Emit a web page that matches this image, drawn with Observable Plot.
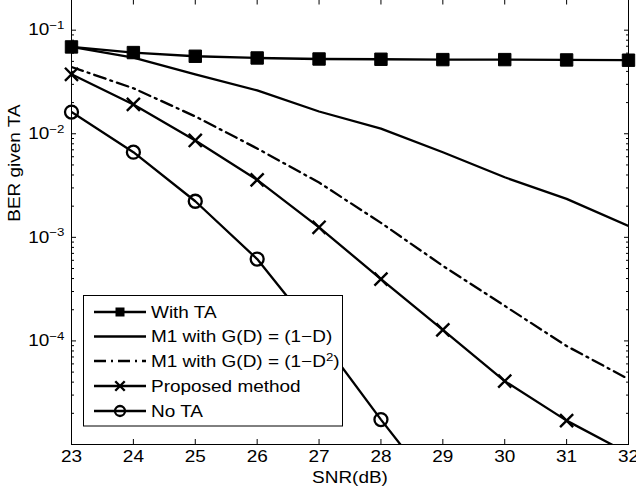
<!DOCTYPE html>
<html><head><meta charset="utf-8">
<script src="https://cdn.jsdelivr.net/npm/d3@7"></script>
<script src="https://cdn.jsdelivr.net/npm/@observablehq/plot@0.6"></script>
<style>
html,body{margin:0;padding:0;background:#fff;}
#wrap{position:relative;width:636px;height:492px;font-family:"Liberation Sans",Arial,Helvetica,sans-serif;}
#legend{position:absolute;left:0;top:0;pointer-events:none;}
</style></head><body><div id="wrap"></div>
<script>
// ---- data ----
const snr = [23, 24, 25, 26, 27, 28, 29, 30, 31, 32];
const withTA   = [0.0689, 0.0608, 0.0560, 0.0539, 0.0527, 0.0524, 0.0520, 0.0520, 0.0516, 0.0513];
const m1D      = [0.0689, 0.0544, 0.0375, 0.0262, 0.0164, 0.0112, 0.00663, 0.0038, 0.00235, 0.00129];
const m1D2     = [0.0441, 0.0275, 0.0147, 0.00721, 0.00338, 0.00138, 5.31e-4, 2.18e-4, 8.93e-5, 4.28e-5];
const proposed = [0.0375, 0.0192, 0.00861, 0.00359, 0.00125, 3.95e-4, 1.28e-4, 4.09e-5, 1.70e-5, 8.2e-6];
const noTAsnr  = [23, 24, 25, 26, 27, 28, 29];
const noTA     = [0.0162, 0.00664, 0.00223, 6.17e-4, 1.11e-4, 1.74e-5, 3.0e-6];
const seriesNames = ["With TA", "M1 with G(D) = (1\u2212D)", "M1 with G(D) = (1\u2212D^2)", "Proposed method", "No TA"];
const xTicks = [23, 24, 25, 26, 27, 28, 29, 30, 31, 32];
const yExps = [-5, -4, -3, -2, -1];
const yMantissas = [2, 3, 4, 5, 6, 7, 8, 9];
const yDomain = [1e-5, 0.2];
const xLabel = "SNR(dB)";
const yLabel = "BER given TA";

// ---- build tables ----
const mk = (xs, ys) => xs.map((x, i) => ({snr: x, ber: ys[i]}));
const series = [mk(snr, withTA), mk(snr, m1D), mk(snr, m1D2), mk(snr, proposed), mk(noTAsnr, noTA)];
const inView = d => d.ber >= yDomain[0] && d.ber <= yDomain[1];
const yMajor = yExps.slice(1).map(e => Math.pow(10, e));
const yMinor = [];
yExps.forEach(e => yMantissas.forEach(m => { const v = m * Math.pow(10, e); if (v > yDomain[0] && v < yDomain[1] * 0.999) yMinor.push(v); }));

const LW = 2.3;
const FS = 16.5;
const SX = 1.15; // horizontal stretch of the reference's lettering
const styles = [
  {dash: null, symbol: "square"},
  {dash: null, symbol: null},
  {dash: "12,5,2,5", symbol: null},
  {dash: null, symbol: "times"},
  {dash: null, symbol: "circle"}
];

const lineMarks = series.map((s, i) => Plot.line(s, {x: "snr", y: "ber", stroke: "black", strokeWidth: LW, strokeDasharray: styles[i].dash, clip: true}));
const dotMarks = [
  Plot.dot(series[0].filter(inView), {x: "snr", y: "ber", symbol: "square", r: 7, fill: "black", stroke: "black", strokeWidth: 1}),
  Plot.dot(series[3].filter(inView), {x: "snr", y: "ber", symbol: "times", r: 6, stroke: "black", strokeWidth: 2.4}),
  Plot.dot(series[4].filter(inView), {x: "snr", y: "ber", symbol: "circle", r: 6.5, fill: "none", stroke: "black", strokeWidth: 2.3})
];

const plot = Plot.plot({
  width: 636, height: 492,
  marginLeft: 71, marginRight: 8, marginTop: -1.5, marginBottom: 48,
  style: {fontFamily: "'Liberation Sans', Arial, Helvetica, sans-serif", fontSize: FS + "px", color: "black", background: "white", overflow: "visible"},
  x: {domain: [23, 32], label: null},
  y: {type: "log", domain: yDomain, label: null},
  marks: [
    Plot.axisX({ticks: xTicks, anchor: "bottom", tickSize: -5, tickPadding: 11, fontSize: FS, label: null, tickFormat: d => String(d)}),
    Plot.axisX({ticks: xTicks, anchor: "top", tickSize: -5, tickFormat: () => "", label: null}),
    Plot.axisY({ticks: yMinor, anchor: "left", tickSize: -3, tickFormat: () => "", label: null}),
    Plot.axisY({ticks: yMinor, anchor: "right", tickSize: -3, tickFormat: () => "", label: null}),
    Plot.axisY({ticks: yMajor, anchor: "left", tickSize: -5, tickPadding: 12, fontSize: FS, label: null,
      tickFormat: d => "10^" + String(Math.round(Math.log10(d))).replace("-", "\u2212")}),
    Plot.axisY({ticks: yMajor, anchor: "right", tickSize: -5, tickFormat: () => "", label: null}),
    Plot.frame({stroke: "black", strokeWidth: 1}),
    ...lineMarks,
    ...dotMarks,
    Plot.text([xLabel], {frameAnchor: "bottom", dy: 33, lineAnchor: "middle", text: d => d, fontSize: FS}),
    Plot.text([yLabel], {frameAnchor: "left", dx: -57, rotate: -90, lineAnchor: "middle", text: d => d, fontSize: FS})
  ]
});

// superscripts for "10^k" labels
function supify(t, baseText, supText) {
  while (t.firstChild) t.removeChild(t.firstChild);
  const ns = "http://www.w3.org/2000/svg";
  const a = document.createElementNS(ns, "tspan"); a.textContent = baseText; t.appendChild(a);
  const b = document.createElementNS(ns, "tspan"); b.textContent = supText;
  b.setAttribute("dy", "-0.55em"); b.setAttribute("font-size", "0.7em"); t.appendChild(b);
}
plot.querySelectorAll("text").forEach(t => {
  const m = t.textContent.match(/^10\^(\u2212?\d+)$/);
  if (m) supify(t, "10", m[1]);
  // widen lettering around its anchor point
  if (!t.textContent) return;
  let tr = t.getAttribute("transform");
  if (!tr) {
    const x = parseFloat(t.getAttribute("x")) || 0;
    const yAttr = t.getAttribute("y");
    let y = 0;
    if (yAttr != null && !/em$/.test(yAttr)) { y = parseFloat(yAttr) || 0; t.removeAttribute("y"); }
    t.removeAttribute("x");
    tr = `translate(${x},${y})`;
  }
  t.setAttribute("transform", tr + ` scale(${SX},1)`);
});

const wrap = document.getElementById("wrap");
wrap.appendChild(plot);

// ---- legend (overlay inside the axes) ----
const leg = d3.select(wrap).append("svg").attr("id", "legend").attr("width", 636).attr("height", 492)
  .style("font-family", "'Liberation Sans', Arial, Helvetica, sans-serif").style("font-size", FS + "px");
const box = {x: 83.5, y: 295.5, w: 259, h: 130.5};
leg.append("rect").attr("x", box.x).attr("y", box.y).attr("width", box.w).attr("height", box.h)
  .attr("fill", "white").attr("stroke", "black").attr("stroke-width", 1);
const rowY = [312, 336.5, 361, 386, 411];
seriesNames.forEach((name, i) => {
  const y = rowY[i];
  const g = leg.append("g");
  g.append("line").attr("x1", 94).attr("x2", 146).attr("y1", y).attr("y2", y)
    .attr("stroke", "black").attr("stroke-width", LW).attr("stroke-dasharray", styles[i].dash);
  const s = styles[i].symbol;
  if (s === "square") g.append("rect").attr("x", 120 - 4.5).attr("y", y - 4.5).attr("width", 9).attr("height", 9).attr("fill", "black");
  if (s === "circle") g.append("circle").attr("cx", 120).attr("cy", y).attr("r", 5).attr("fill", "none").attr("stroke", "black").attr("stroke-width", 2.3);
  if (s === "times") g.append("path").attr("d", d3.symbol(d3.symbolTimes, 60)()).attr("transform", `translate(120,${y})`).attr("stroke", "black").attr("stroke-width", 2.4).attr("fill", "none");
  const t = g.append("text").attr("transform", `translate(151,${y}) scale(${SX},1)`).attr("dy", "0.35em").attr("fill", "black");
  const parts = name.split("^");
  if (parts.length === 1) t.text(name);
  else {
    t.append("tspan").text(parts[0]);
    const sup = parts[1].slice(0, 1), rest = parts[1].slice(1);
    t.append("tspan").attr("dy", "-0.5em").attr("font-size", "0.7em").text(sup);
    t.append("tspan").attr("dy", "0.35em").text(rest);
  }
});
</script></body></html>
